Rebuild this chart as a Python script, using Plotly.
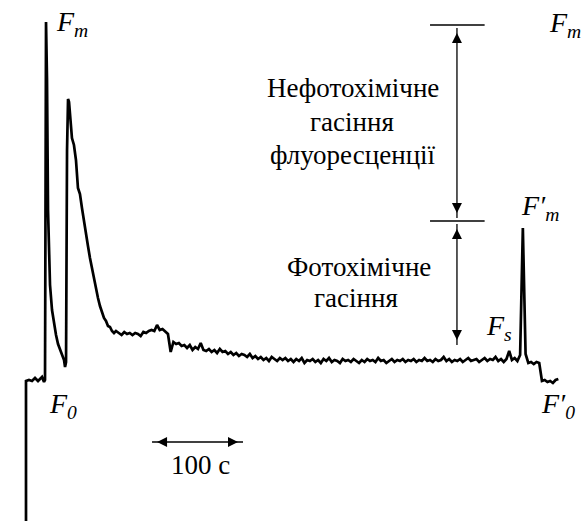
import numpy as np
import plotly.graph_objects as go

# --- Data: chlorophyll fluorescence induction (time in s, fluorescence in rel. units)
t_fast = [0, 0, 3.3, 6.6, 9.9, 13.2, 15.4, 17.6, 19.8, 20.9, 22.0, 23.1, 24.2, 25.3,
          26.4, 28.6, 30.8, 33.0, 35.2, 37.4, 39.6, 41.8, 42.9, 44.0, 45.1, 46.2,
          47.3, 48.4, 49.5, 50.5, 52.7, 54.9, 57.1, 59.3, 61.5, 63.7, 65.9, 68.1,
          70.3, 72.5, 74.7, 76.9, 79.1, 81.3, 83.5, 85.7, 87.9, 90.1, 92.3, 94.5,
          96.7, 98.9]
f_fast = [0.0, 1.40, 1.41, 1.40, 1.43, 1.40, 1.42, 1.44, 1.39, 1.41, 4.99, 4.41,
          3.11, 2.59, 2.36, 2.11, 1.96, 1.86, 1.77, 1.72, 1.68, 1.61, 1.54, 1.59,
          3.71, 4.22, 4.19, 4.09, 3.96, 3.83, 3.76, 3.61, 3.33, 3.27, 3.13, 2.99,
          2.88, 2.75, 2.63, 2.53, 2.42, 2.31, 2.23, 2.15, 2.09, 2.03, 2.00, 1.95,
          1.94, 1.90, 1.88, 1.90]

# slow phase, sampled every 3 s starting at 102 s
t_slow_start = 102.0
t_slow_step = 3.0
f_slow = [1.88, 1.86, 1.89, 1.87, 1.88, 1.86, 1.88, 1.87, 1.85, 1.89, 1.88, 1.90,
          1.91, 1.90, 1.96, 1.91, 1.92, 1.89, 1.87, 1.69, 1.79, 1.77, 1.78, 1.75,
          1.76, 1.73, 1.76, 1.71, 1.74, 1.72, 1.78, 1.71, 1.70, 1.72, 1.69, 1.71,
          1.68, 1.72, 1.69, 1.70, 1.67, 1.69, 1.66, 1.68, 1.65, 1.67, 1.66, 1.64,
          1.67, 1.63, 1.65, 1.62, 1.64, 1.61, 1.63, 1.60, 1.64, 1.62, 1.60, 1.63,
          1.61, 1.63, 1.60, 1.62, 1.59, 1.62, 1.60, 1.63, 1.58, 1.61, 1.60, 1.62,
          1.59, 1.61, 1.58, 1.62, 1.60, 1.63, 1.59, 1.61, 1.60, 1.58, 1.62, 1.60,
          1.61, 1.59, 1.62, 1.60, 1.58, 1.61, 1.59, 1.62, 1.60, 1.61, 1.59, 1.63,
          1.60, 1.61, 1.58, 1.60, 1.62, 1.59, 1.61, 1.60, 1.62, 1.59, 1.61, 1.60,
          1.62, 1.59, 1.61, 1.60, 1.63, 1.60, 1.61, 1.59, 1.62, 1.60, 1.61, 1.64,
          1.60, 1.62, 1.59, 1.61, 1.60, 1.62, 1.59, 1.61, 1.63, 1.60, 1.61, 1.62,
          1.59, 1.61, 1.63, 1.60, 1.62, 1.61, 1.64, 1.60, 1.62, 1.59, 1.62, 1.70,
          1.61, 1.63, 1.60, 1.66, 2.93, 1.67, 1.58, 1.59, 1.57, 1.59, 1.58, 1.40,
          1.41, 1.39, 1.40, 1.38, 1.41, 1.42]
t_slow = list(t_slow_start + t_slow_step * np.arange(len(f_slow)))

t_all = t_fast + t_slow
f_all = f_fast + f_slow

# characteristic levels
Fm_level = 4.96
Fm_prime_level = 3.00
Fs_level = 1.76
bar_t = [444, 504]
arrow_t = 473.6
scale_bar = [138.5, 238.5]   # 100 s
scale_bar_F = 0.79

# labels (anchor = top-left corner of label)
label_text = ["<i>F</i><sub><i>m</i></sub>", "<i>F</i><sub><i>m</i></sub>",
              "<i>F′</i><sub><i>m</i></sub>", "<i>F</i><sub><i>s</i></sub>",
              "<i>F</i><sub><i>0</i></sub>", "<i>F′</i><sub><i>0</i></sub>"]
label_t = [31.0, 573.0, 542.0, 503.0, 23.5, 564.0]
label_f = [5.17, 5.16, 3.33, 2.13, 1.35, 1.35]

# text lines (anchor = left edge, vertical middle)
line_text = ["Нефотохімічне", "гасіння", "флуоресценції", "Фотохімічне", "гасіння", "100 с"]
line_t = [262.6, 309.9, 265.9, 284.6, 314.3, 157.1]
line_f = [4.33, 3.99, 3.66, 2.54, 2.23, 0.56]

FONT = "Liberation Serif"
HEAD_OFF_F = 0.05   # arrow-head marker centre offset (half marker size)
HEAD_OFF_T = 5.5

fig = go.Figure()
fig.add_trace(go.Scatter(x=t_all, y=f_all, mode="lines",
                         line=dict(color="black", width=2.7), hoverinfo="skip"))

# level bars
for lvl in (Fm_level, Fm_prime_level):
    fig.add_trace(go.Scatter(x=bar_t, y=[lvl, lvl], mode="lines",
                             line=dict(color="black", width=1.5), hoverinfo="skip"))

def v_arrow(t, f_top, f_bot):
    fig.add_trace(go.Scatter(x=[t, t], y=[f_top, f_bot], mode="lines",
                             line=dict(color="black", width=1.3), hoverinfo="skip"))
    fig.add_trace(go.Scatter(x=[t, t], y=[f_top - HEAD_OFF_F, f_bot + HEAD_OFF_F],
                             mode="markers", hoverinfo="skip",
                             marker=dict(symbol=["arrow-up", "arrow-down"], size=10,
                                         color="black", line=dict(width=0))))

def h_arrow(t_l, t_r, f):
    fig.add_trace(go.Scatter(x=[t_l, t_r], y=[f, f], mode="lines",
                             line=dict(color="black", width=1.6), hoverinfo="skip"))
    fig.add_trace(go.Scatter(x=[t_l + HEAD_OFF_T, t_r - HEAD_OFF_T], y=[f, f],
                             mode="markers", hoverinfo="skip",
                             marker=dict(symbol=["arrow-left", "arrow-right"], size=10,
                                         color="black", line=dict(width=0))))

v_arrow(arrow_t, Fm_level - 0.03, Fm_prime_level + 0.03)
v_arrow(arrow_t, Fm_prime_level - 0.03, Fs_level)
h_arrow(scale_bar[0], scale_bar[1], scale_bar_F)

for x, y, s in zip(label_t, label_f, label_text):
    fig.add_annotation(x=x, y=y, xref="x", yref="y", text=s, showarrow=False,
                       xanchor="left", yanchor="top",
                       font=dict(family=FONT, size=28, color="black"))

for x, y, s in zip(line_t, line_f, line_text):
    fig.add_annotation(x=x, y=y, xref="x", yref="y", text=s, showarrow=False,
                       xanchor="left",
                       font=dict(family=FONT, size=27, color="black"))

fig.update_layout(
    width=587, height=521,
    margin=dict(l=0, r=0, t=0, b=0),
    paper_bgcolor="white", plot_bgcolor="white",
    showlegend=False,
    font=dict(family=FONT),
    xaxis=dict(range=[-28.57, 616.5], visible=False),
    yaxis=dict(range=[0, 5.21], visible=False),
)
fig.write_html("out.html", config={"displayModeBar": False},
               post_script="document.body.style.margin='0';")
